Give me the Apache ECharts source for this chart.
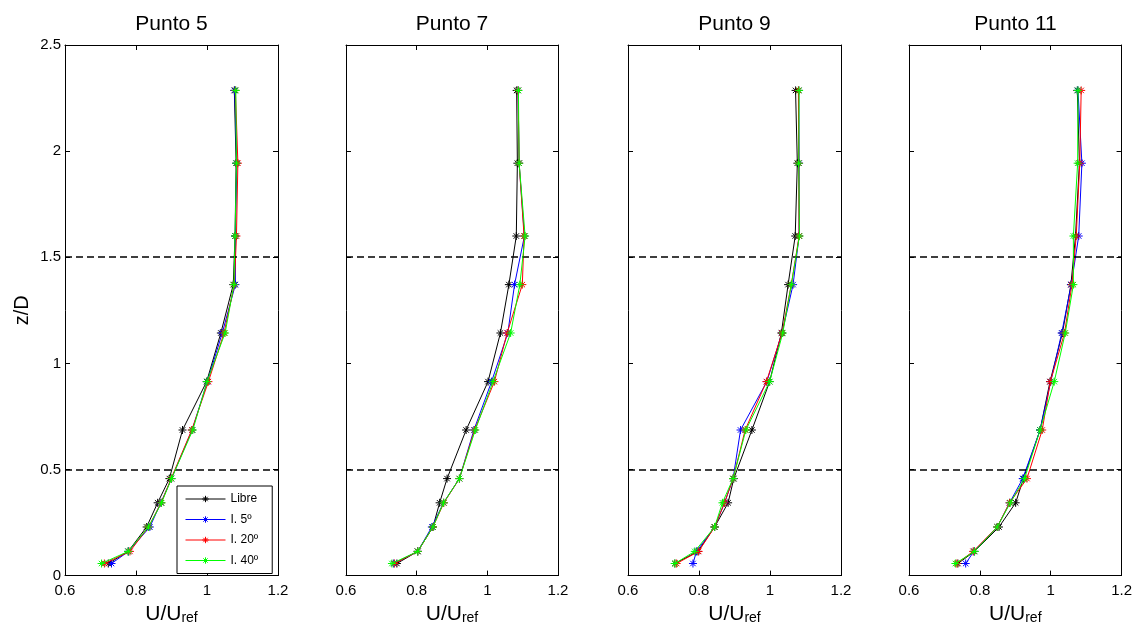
<!DOCTYPE html>
<html>
<head>
<meta charset="utf-8">
<script src="https://cdn.jsdelivr.net/npm/echarts@6/dist/echarts.min.js"></script>
<style>
  html, body { margin: 0; padding: 0; background: #fff; }
  #myChart { width: 1135px; height: 630px; }
</style>
</head>
<body>
<div id="myChart"></div>
<script>
// heights (z/D), shared by every profile, bottom to top
const zLevels = [0.057, 0.114, 0.229, 0.343, 0.457, 0.686, 0.914, 1.143, 1.371, 1.6, 1.943, 2.286];

// U/Uref, one array per panel and case
const p5_libre = [0.722, 0.778, 0.830, 0.861, 0.894, 0.931, 0.999, 1.039, 1.074, 1.079, 1.082, 1.077];
const p5_i5    = [0.731, 0.779, 0.839, 0.870, 0.900, 0.958, 1.001, 1.043, 1.080, 1.080, 1.084, 1.078];
const p5_i20   = [0.711, 0.783, 0.835, 0.871, 0.899, 0.957, 1.004, 1.048, 1.077, 1.083, 1.087, 1.080];
const p5_i40   = [0.703, 0.778, 0.835, 0.872, 0.900, 0.960, 1.000, 1.051, 1.076, 1.079, 1.083, 1.081];

const p7_libre = [0.744, 0.803, 0.846, 0.865, 0.886, 0.940, 1.002, 1.037, 1.061, 1.082, 1.085, 1.083];
const p7_i5    = [0.735, 0.803, 0.843, 0.876, 0.921, 0.962, 1.012, 1.058, 1.077, 1.105, 1.090, 1.087];
const p7_i20   = [0.737, 0.803, 0.846, 0.877, 0.921, 0.964, 1.020, 1.056, 1.099, 1.104, 1.090, 1.087];
const p7_i40   = [0.730, 0.803, 0.846, 0.876, 0.921, 0.966, 1.016, 1.066, 1.092, 1.107, 1.090, 1.088];

const p9_libre = [0.732, 0.797, 0.844, 0.882, 0.898, 0.949, 0.999, 1.032, 1.051, 1.071, 1.077, 1.072];
const p9_i5    = [0.783, 0.793, 0.844, 0.872, 0.896, 0.917, 0.991, 1.034, 1.065, 1.082, 1.082, 1.081];
const p9_i20   = [0.737, 0.799, 0.844, 0.872, 0.896, 0.930, 0.990, 1.034, 1.060, 1.082, 1.081, 1.080];
const p9_i40   = [0.732, 0.788, 0.844, 0.866, 0.896, 0.932, 0.999, 1.036, 1.060, 1.083, 1.081, 1.082];

const p11_libre = [0.738, 0.785, 0.854, 0.901, 0.923, 0.970, 0.998, 1.033, 1.057, 1.070, 1.081, 1.075];
const p11_i5    = [0.760, 0.783, 0.849, 0.884, 0.921, 0.970, 1.000, 1.031, 1.058, 1.079, 1.088, 1.077];
const p11_i20   = [0.735, 0.781, 0.849, 0.884, 0.933, 0.976, 0.999, 1.039, 1.060, 1.072, 1.082, 1.086];
const p11_i40   = [0.731, 0.785, 0.849, 0.886, 0.926, 0.970, 1.010, 1.041, 1.064, 1.064, 1.076, 1.077];

const panelTitles = ['Punto 5', 'Punto 7', 'Punto 9', 'Punto 11'];
const seriesNames = ['Libre', 'I. 5º', 'I. 20º', 'I. 40º'];
const dashLevels = [0.5, 1.5];

const panelData = [
  [p5_libre, p5_i5, p5_i20, p5_i40],
  [p7_libre, p7_i5, p7_i20, p7_i40],
  [p9_libre, p9_i5, p9_i20, p9_i40],
  [p11_libre, p11_i5, p11_i20, p11_i40]
];

const colors = ['#000000', '#0000ff', '#ff0000', '#00ff00'];
const gridLefts = [65, 346, 628, 909];
const gridWidths = [213, 212, 213, 213];
const font = 'Liberation Sans, Arial, Helvetica, sans-serif';
const star = 'path://M5,0L5,10M0,5L10,5M1.6,1.6L8.4,8.4M1.6,8.4L8.4,1.6';

const myChart = echarts.init(document.getElementById('myChart'));

const grid = [], xAxis = [], yAxis = [], title = [], series = [];

const tickStyle = { show: true, inside: true, length: 5, lineStyle: { color: '#000', width: 1 } };
const lineStyleAx = { show: true, onZero: false, lineStyle: { color: '#000', width: 1 } };

panelTitles.forEach(function (name, p) {
  grid.push({ left: gridLefts[p], top: 45, width: gridWidths[p], height: 533 });
  title.push({
    text: name,
    left: gridLefts[p] + gridWidths[p] / 2,
    top: 14,
    textAlign: 'center',
    padding: 0,
    textStyle: { fontFamily: font, fontSize: 21, fontWeight: 'normal', color: '#000' }
  });

  // bottom x axis with labels
  xAxis.push({
    gridIndex: p, type: 'value', position: 'bottom',
    min: 0.6, max: 1.2, interval: 0.2,
    axisLine: lineStyleAx, axisTick: tickStyle, splitLine: { show: false },
    axisLabel: { margin: 8, fontFamily: font, fontSize: 15, color: '#000', showMinLabel: true, showMaxLabel: true },
    name: '{a|U/U}{b|ref}', nameLocation: 'middle', nameGap: 26,
    nameTextStyle: {
      fontFamily: font, color: '#000',
      rich: {
        a: { fontFamily: font, fontSize: 21, lineHeight: 22, color: '#000' },
        b: { fontFamily: font, fontSize: 14, lineHeight: 2, verticalAlign: 'bottom', color: '#000' }
      }
    }
  });
  // top x axis: ticks only
  xAxis.push({
    gridIndex: p, type: 'value', position: 'top',
    min: 0.6, max: 1.2, interval: 0.2,
    axisLine: lineStyleAx, axisTick: tickStyle, splitLine: { show: false },
    axisLabel: { show: false }
  });

  // left y axis
  yAxis.push({
    gridIndex: p, type: 'value', position: 'left',
    min: 0, max: 2.5, interval: 0.5,
    axisLine: lineStyleAx, axisTick: tickStyle, splitLine: { show: false },
    axisLabel: { show: p === 0, margin: 4, fontFamily: font, fontSize: 15, color: '#000' },
    name: p === 0 ? 'z/D' : '', nameLocation: 'middle', nameGap: 33,
    nameTextStyle: { fontFamily: font, fontSize: 20, color: '#000' }
  });
  // right y axis: ticks only
  yAxis.push({
    gridIndex: p, type: 'value', position: 'right',
    min: 0, max: 2.5, interval: 0.5,
    axisLine: lineStyleAx, axisTick: tickStyle, splitLine: { show: false },
    axisLabel: { show: false }
  });

  panelData[p].forEach(function (vals, s) {
    const item = {
      name: seriesNames[s],
      type: 'line',
      xAxisIndex: p * 2,
      yAxisIndex: p * 2,
      data: vals.map(function (u, k) { return [u, zLevels[k]]; }),
      symbol: star,
      symbolSize: 8,
      showAllSymbol: true,
      lineStyle: { color: colors[s], width: 1 },
      itemStyle: { color: 'rgba(0,0,0,0)', borderColor: colors[s], borderWidth: 1 },
      emphasis: { disabled: true },
      animation: false,
      z: 2 + s
    };
    if (s === 0) {
      item.markLine = {
        silent: true,
        symbol: ['none', 'none'],
        label: { show: false },
        lineStyle: { color: '#000', type: [7, 4], width: 1.6 },
        data: dashLevels.map(function (v) { return { yAxis: v }; }),
        animation: false
      };
    }
    series.push(item);
  });
});

const option = {
  backgroundColor: '#fff',
  animation: false,
  title: title,
  grid: grid,
  xAxis: xAxis,
  yAxis: yAxis,
  legend: {
    data: seriesNames,
    orient: 'vertical',
    left: 177,
    top: 486,
    padding: [7, 14, 7, 8],
    itemWidth: 40,
    itemHeight: 8,
    itemGap: 8.5,
    backgroundColor: '#fff',
    borderColor: '#000',
    borderWidth: 1,
    selectedMode: false,
    lineStyle: { width: 1 },
    itemStyle: { color: 'rgba(0,0,0,0)', borderColor: 'inherit', borderWidth: 1 },
    textStyle: { fontFamily: font, fontSize: 12, color: '#000', lineHeight: 10, padding: [0, 0, 0, 0] }
  },
  series: series
};

myChart.setOption(option);
</script>
</body>
</html>
